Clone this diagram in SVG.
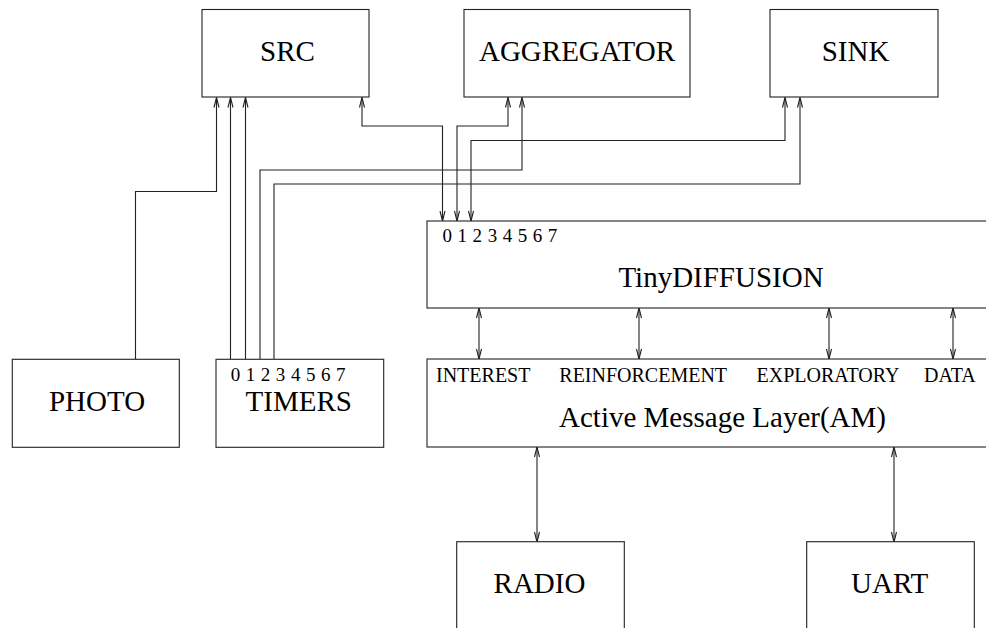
<svg xmlns="http://www.w3.org/2000/svg" width="986" height="628" viewBox="0 0 986 628">
<style>
.box{fill:#fff;stroke:#222;stroke-width:1.1}
.t{font-family:"Liberation Serif","Times New Roman",serif;font-size:29px;fill:#000;text-anchor:middle}
.s{font-family:"Liberation Serif","Times New Roman",serif;font-size:20px;fill:#000}
.d{font-family:"Liberation Serif","Times New Roman",serif;font-size:19px;fill:#000;word-spacing:0.8px}
.c{fill:none;stroke:#222;stroke-width:1.1}
.one{marker-end:url(#ah)}
.two{marker-start:url(#ah);marker-end:url(#ah)}
</style>
<defs>
<marker id="ah" markerUnits="userSpaceOnUse" markerWidth="14" markerHeight="8" viewBox="-11 -4 12 8" refX="0" refY="0" orient="auto-start-reverse">
<path d="M-10,-2.5 L0,0 L-10,2.5" fill="none" stroke="#222" stroke-width="1.1"/>
</marker>
</defs>
<rect width="986" height="628" fill="#fff"/>
<g id="connectors">
<path class="c one" d="M135.5,359 V191.5 H216.5 V97.5"/>
<path class="c one" d="M230.5,359 V97.5"/>
<path class="c one" d="M245.5,359 V97.5"/>
<path class="c one" d="M260,359 V170 H522 V97.5"/>
<path class="c one" d="M274,359 V184 H800 V97.5"/>
<path class="c two" d="M362,97.5 V126 H442.5 V221"/>
<path class="c two" d="M508,97.5 V126 H457 V221"/>
<path class="c two" d="M785,97.5 V140.5 H471 V221"/>
<path class="c two" d="M479,308 V359"/>
<path class="c two" d="M639,308 V359"/>
<path class="c two" d="M829,308 V359"/>
<path class="c two" d="M953,308 V359"/>
<path class="c two" d="M537,447 V542"/>
<path class="c two" d="M894,447 V542"/>
</g>
<g id="src"><rect class="box" x="202" y="9.5" width="167" height="87.5"/><text class="t" x="287.5" y="61">SRC</text></g>
<g id="aggregator"><rect class="box" x="464" y="9.5" width="226" height="87.5"/><text class="t" x="577" y="61">AGGREGATOR</text></g>
<g id="sink"><rect class="box" x="770" y="9.5" width="168" height="87.5"/><text class="t" x="855.5" y="61">SINK</text></g>
<g id="tinydiffusion"><rect class="box" x="427" y="221" width="600" height="87"/><text class="d" x="442.5" y="242.3">0 1 2 3 4 5 6 7</text><text class="t" x="721" y="286.7">TinyDIFFUSION</text></g>
<g id="am"><rect class="box" x="427" y="359" width="600" height="88"/>
<text class="s" x="436" y="381.7">INTEREST</text>
<text class="s" x="559.3" y="381.7">REINFORCEMENT</text>
<text class="s" x="756.5" y="381.7">EXPLORATORY</text>
<text class="s" x="924" y="381.7">DATA</text>
<text class="t" x="722.5" y="426.7">Active Message Layer(AM)</text></g>
<g id="photo"><rect class="box" x="12.3" y="359.3" width="167" height="88"/><text class="t" x="97" y="410.7">PHOTO</text></g>
<g id="timers"><rect class="box" x="216" y="359.3" width="167.7" height="88"/><text class="d" x="230.7" y="380.7">0 1 2 3 4 5 6 7</text><text class="t" x="298.7" y="410.7">TIMERS</text></g>
<g id="radio"><rect class="box" x="456.7" y="541.7" width="167.6" height="120"/><text class="t" x="539.5" y="592.7">RADIO</text></g>
<g id="uart"><rect class="box" x="806.7" y="541.7" width="167.6" height="120"/><text class="t" x="889.7" y="592.7">UART</text></g>
</svg>
